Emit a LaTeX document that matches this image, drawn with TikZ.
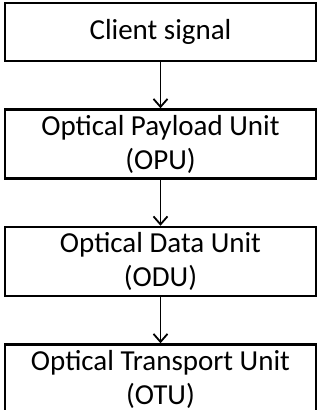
\documentclass[tikz,border=0pt]{standalone}
\usepackage{fontspec}
\setmainfont{Carlito}
\usetikzlibrary{arrows.meta,positioning}

\tikzset{
  unit/.style={draw,line width=2.5pt,minimum width=311pt,minimum height=69pt,
    align=center,font=\fontsize{29}{34}\selectfont,inner sep=0pt},
  flow/.style={-{Straight Barb[length=8pt,width=14pt]},line width=1.8pt}
}

\begin{document}
\begin{tikzpicture}[x=1pt,y=-1pt,node distance=46pt]
\useasboundingbox (0,0) rectangle (320,410);
% layers, top to bottom
  \node[unit,minimum height=58pt] (client) at (160.5,32) {Client signal};
  \node[unit] (opu) [below=of client] {Optical Payload Unit\\(OPU)};
  \node[unit] (odu) [below=of opu]    {Optical Data Unit\\(ODU)};
  \node[unit] (otu) [below=of odu]    {Optical Transport Unit\\(OTU)};

% mapping
  \draw[flow] (client) -- (opu);
  \draw[flow] (opu)    -- (odu);
  \draw[flow] (odu)    -- (otu);
\end{tikzpicture}
\end{document}
